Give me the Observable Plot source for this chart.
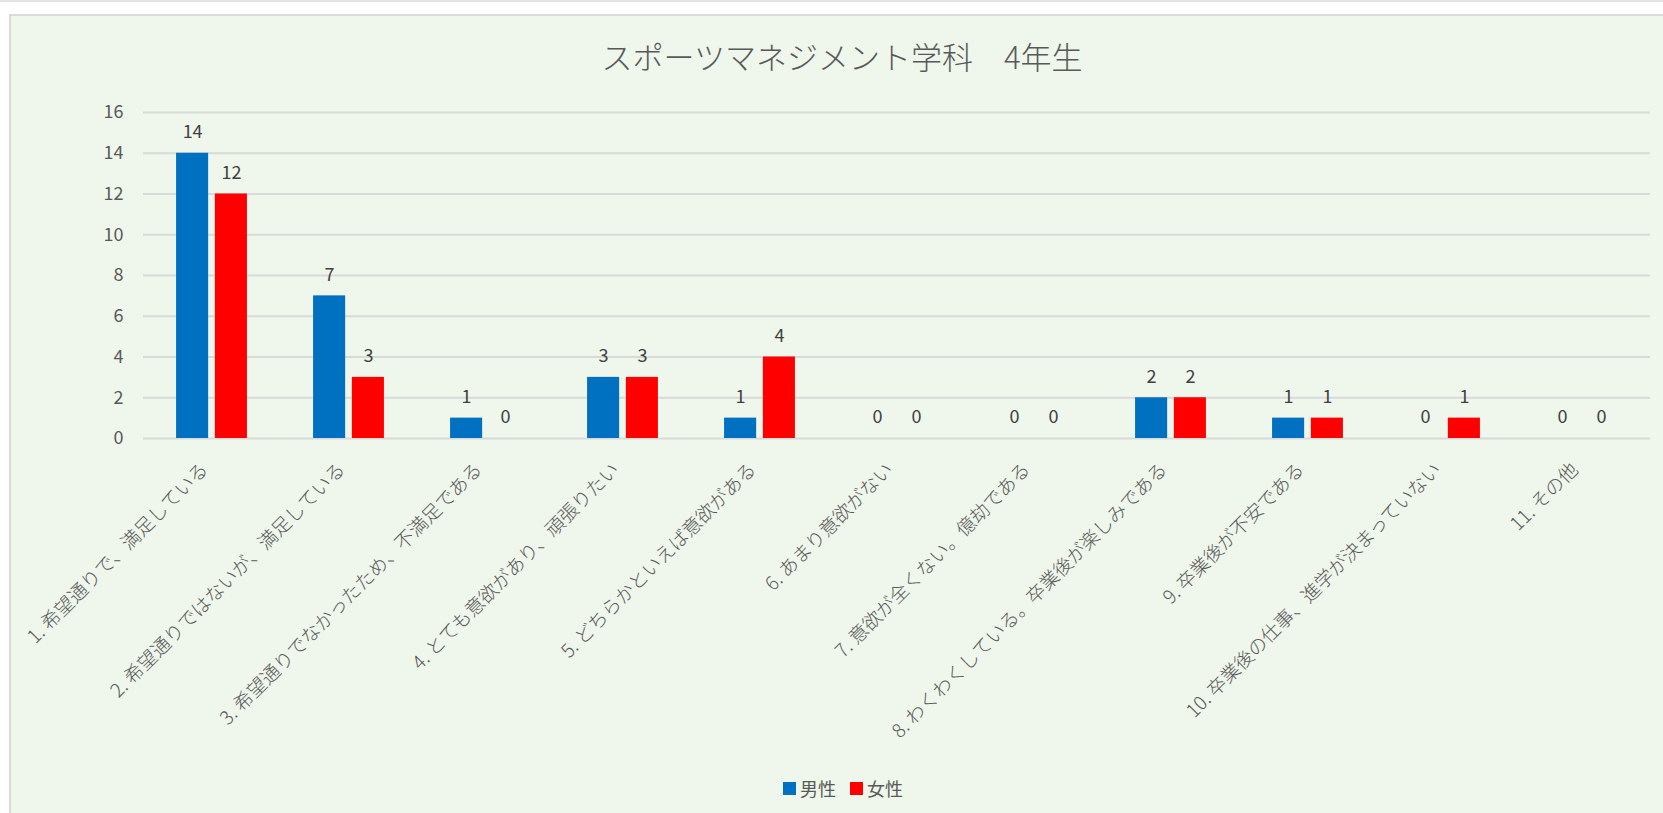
<!DOCTYPE html>
<html><head><meta charset="utf-8">
<script src="https://cdn.jsdelivr.net/npm/d3@7"></script>
<script src="https://cdn.jsdelivr.net/npm/@observablehq/plot@0.6"></script>
<style>
body{margin:0;width:1663px;height:813px;overflow:hidden;background:#fff;position:relative;font-family:"Noto Sans CJK JP","Noto Sans",sans-serif;}
#topline{position:absolute;left:0;top:0;width:1663px;height:2px;background:#e3e3e3}
#box{position:absolute;left:9px;top:14px;width:1700px;height:820px;background:#eff6ec;border-left:2px solid #dadada;border-top:2px solid #dadada}
#title{position:absolute;left:0;width:1684px;top:34px;text-align:center;font-size:31px;font-weight:300;color:#595959;line-height:44px;white-space:pre}
#chart{position:absolute;left:0;top:85px}
#legend{position:absolute;left:783px;top:776px;display:flex;align-items:center;font-size:18px;color:#595959;line-height:24px}
#legend .item{display:flex;align-items:center;margin-right:14px}
#legend .sw{width:13px;height:13px;margin-right:4px}
</style></head>
<body>
<div id="topline"></div>
<div id="box"></div>
<div id="title"></div>
<div id="chart"></div>
<div id="legend"></div>
<script>
const titleText = "スポーツマネジメント学科　4年生";
const categories = [
  "1. 希望通りで、満足している",
  "2. 希望通りではないが、満足している",
  "3. 希望通りでなかったため、不満足である",
  "4. とても意欲があり、頑張りたい",
  "5. どちらかといえば意欲がある",
  "6. あまり意欲がない",
  "7. 意欲が全くない。億劫である",
  "8. わくわくしている。卒業後が楽しみである",
  "9. 卒業後が不安である",
  "10. 卒業後の仕事、進学が決まっていない",
  "11. その他"
];
const seriesNames = ["男性", "女性"];
const maleValues = [14, 7, 1, 3, 1, 0, 0, 2, 1, 0, 0];
const femaleValues = [12, 3, 0, 3, 4, 0, 0, 2, 1, 1, 0];
const seriesColors = ["#0070C0", "#FF0000"];
const yTicks = [0, 2, 4, 6, 8, 10, 12, 14, 16];

const data = categories.flatMap((c, i) => [
  {category: c, series: seriesNames[0], value: maleValues[i]},
  {category: c, series: seriesNames[1], value: femaleValues[i]}
]);

document.getElementById("title").textContent = titleText;

const chart = Plot.plot({
  width: 1663, height: 680,
  marginLeft: 143, marginRight: 13, marginTop: 27, marginBottom: 327,
  style: {background: "transparent", fontFamily: '"Noto Sans CJK JP","Noto Sans",sans-serif', overflow: "visible"},
  fx: {domain: categories, padding: 0, round: false, axis: null, label: null},
  x: {domain: seriesNames, paddingInner: 0.173, paddingOuter: 0.853, round: false, axis: null, label: null},
  y: {domain: [0, 16], label: null},
  color: {domain: seriesNames, range: seriesColors},
  marks: [
    Plot.gridY(yTicks, {stroke: "#d9d9d9", strokeOpacity: 1, strokeWidth: 2}),
    Plot.axisY(yTicks, {tickSize: 0, tickPadding: 20, fontSize: 18, fill: "#595959", label: null}),
    Plot.barY(data, {fx: "category", x: "series", y: "value", fill: "series"}),
    Plot.text(data, {fx: "category", x: "series", y: "value", text: "value", dy: -21, fontSize: 18, fill: "#404040"}),
    Plot.text(categories, {fx: d => d, text: d => d, frameAnchor: "bottom", rotate: -45, textAnchor: "end", lineAnchor: "middle", dx: -7, dy: 28, fontSize: 19, fontWeight: 300, fill: "#595959"})
  ]
});
document.getElementById("chart").appendChild(chart);

const legend = document.getElementById("legend");
seriesNames.forEach((s, i) => {
  const item = document.createElement("div");
  item.className = "item";
  const sw = document.createElement("span");
  sw.className = "sw";
  sw.style.background = seriesColors[i];
  const t = document.createElement("span");
  t.textContent = s;
  item.appendChild(sw); item.appendChild(t);
  legend.appendChild(item);
});
</script>
</body></html>
